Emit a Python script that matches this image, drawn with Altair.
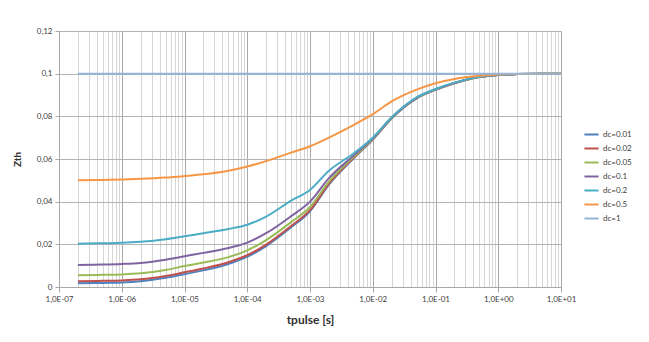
import altair as alt
import pandas as pd

# pulse duration [s]
t = [2e-7, 5e-7, 1e-6, 2e-6, 5e-6, 1e-5, 2e-5, 5e-5, 1e-4, 2e-4, 5e-4, 1e-3,
     2e-3, 5e-3, 1e-2, 2e-2, 5e-2, 1e-1, 2e-1, 5e-1, 1.0, 2.0, 5.0, 10.0]

dc_001 = [0.0017, 0.0019, 0.0021, 0.0027, 0.0043, 0.0060, 0.0078, 0.0108, 0.0142, 0.0192, 0.0280, 0.0355,
          0.0480, 0.0605, 0.0690, 0.0790, 0.0884, 0.0924, 0.0955, 0.0984, 0.0994, 0.0998, 0.1000, 0.1000]
dc_002 = [0.0027, 0.0029, 0.0031, 0.0036, 0.0052, 0.0069, 0.0087, 0.0116, 0.0149, 0.0199, 0.0286, 0.0360,
          0.0484, 0.0607, 0.0692, 0.0791, 0.0885, 0.0925, 0.0955, 0.0984, 0.0994, 0.0998, 0.1000, 0.1000]
dc_005 = [0.0055, 0.0057, 0.0059, 0.0064, 0.0080, 0.0098, 0.0115, 0.0140, 0.0172, 0.0220, 0.0304, 0.0375,
          0.0494, 0.0611, 0.0694, 0.0792, 0.0886, 0.0926, 0.0956, 0.0984, 0.0994, 0.0998, 0.1000, 0.1000]
dc_01 = [0.0103, 0.0105, 0.0108, 0.0113, 0.0128, 0.0144, 0.0160, 0.0183, 0.0208, 0.0252, 0.0332, 0.0400,
         0.0510, 0.0617, 0.0697, 0.0794, 0.0887, 0.0927, 0.0957, 0.0985, 0.0994, 0.0998, 0.1000, 0.1000]
dc_02 = [0.0203, 0.0205, 0.0207, 0.0212, 0.0224, 0.0238, 0.0252, 0.0272, 0.0292, 0.0330, 0.0405, 0.0455,
         0.0545, 0.0627, 0.0700, 0.0796, 0.0889, 0.0928, 0.0958, 0.0985, 0.0995, 0.0998, 0.1000, 0.1000]
dc_05 = [0.0500, 0.0502, 0.0504, 0.0507, 0.0513, 0.0520, 0.0528, 0.0545, 0.0565, 0.0590, 0.0630, 0.0660,
         0.0700, 0.0760, 0.0810, 0.0870, 0.0925, 0.0955, 0.0975, 0.0990, 0.0996, 0.0999, 0.1000, 0.1000]
dc_1 = [0.1000] * len(t)

names = ["dc=0.01", "dc=0.02", "dc=0.05", "dc=0.1", "dc=0.2", "dc=0.5", "dc=1"]
values = [dc_001, dc_002, dc_005, dc_01, dc_02, dc_05, dc_1]
colors = ["#4F81BD", "#C0504D", "#9BBB59", "#8064A2", "#4BACC6", "#F79646", "#95B3D7"]

x_tick_labels = ["1,0E-07", "1,0E-06", "1,0E-05", "1,0E-04", "1,0E-03",
                 "1,0E-02", "1,0E-01", "1,0E+00", "1,0E+01"]
y_ticks = [0, 0.02, 0.04, 0.06, 0.08, 0.1, 0.12]

rows = []
for i, (n, v) in enumerate(zip(names, values)):
    for ti, vi in zip(t, v):
        rows.append({"t": ti, "Zth": vi, "series": n, "order": i})
df = pd.DataFrame(rows)

grid_vals = [m * 10.0 ** e for e in range(-7, 1) for m in range(1, 10)] + [10.0]
is_major = "abs(log(datum.value)/LN10 - round(log(datum.value)/LN10)) < 0.001"
lab_arr = "[" + ",".join("'%s'" % s for s in x_tick_labels) + "]"
x_label_expr = is_major + " ? " + lab_arr + "[round(log(datum.value)/LN10)+7] : ''"

FONT = "Lato"

chart = alt.Chart(df).mark_line(strokeWidth=2, clip=True, interpolate="monotone").encode(
    x=alt.X("t:Q", title="tpulse [s]",
            scale=alt.Scale(type="log", domain=[1e-7, 10], nice=False),
            axis=alt.Axis(values=grid_vals, labelExpr=x_label_expr,
                          gridColor={"condition": {"test": is_major, "value": "#a8a8a8"}, "value": "#d6d6d6"},
                          tickColor={"condition": {"test": is_major, "value": "#a8a8a8"}, "value": "transparent"},
                          tickSize=5, domainColor="#a8a8a8", labelFontSize=8, labelColor="#404040",
                          labelPadding=3, labelFlush=False, labelOverlap=False,
                          titleFontSize=12, titleFontWeight="bold", titleColor="#303030",
                          titlePadding=11, labelFont=FONT, titleFont=FONT)),
    y=alt.Y("Zth:Q", title="Zth",
            scale=alt.Scale(domain=[0, 0.12], nice=False, zero=True),
            axis=alt.Axis(values=y_ticks,
                          labelExpr="replace(toString(datum.value), '.', ',')",
                          gridColor="#b4b4b4", tickColor="#a8a8a8", tickSize=4,
                          domainColor="#a8a8a8", labelFontSize=8, labelColor="#404040",
                          labelPadding=3, titleFontSize=10, titleFontWeight="bold",
                          titleColor="#303030", titlePadding=14, labelFont=FONT, titleFont=FONT)),
    color=alt.Color("series:N", sort=names,
                    scale=alt.Scale(domain=names, range=colors),
                    legend=alt.Legend(title=None, orient="none", legendX=524, legendY=95,
                                      symbolType="stroke", symbolSize=200, symbolStrokeWidth=2,
                                      labelFontSize=8, labelColor="#404040", labelFont=FONT,
                                      rowPadding=1, labelOffset=3)),
    order=alt.Order("order:Q"),
    detail="series:N",
).properties(
    width=502, height=256,
    autosize=alt.AutoSizeParams(type="none"),
    padding={"left": 59, "top": 31, "right": 88, "bottom": 55},
).configure_view(stroke=None).configure(background="white")

chart.save("out.html", embed_options={"renderer": "svg", "actions": False})
